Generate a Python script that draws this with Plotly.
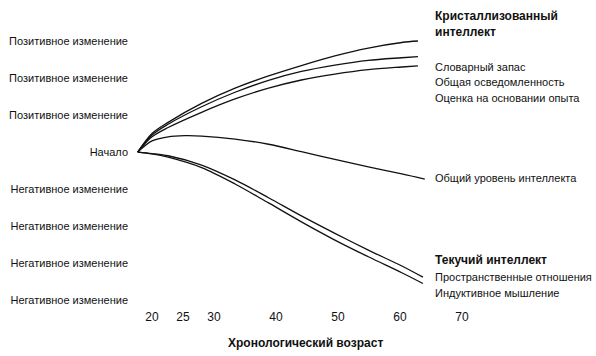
import plotly.graph_objects as go

# ---- data ----
y_tick_vals = [3, 2, 1, 0, -1, -2, -3, -4]
y_tick_labels = ["Позитивное изменение"] * 3 + ["Начало"] + ["Негативное изменение"] * 4
x_tick_vals = [20, 25, 30, 40, 50, 60, 70]
x_tick_labels = ["20", "25", "30", "40", "50", "60", "70"]
x_title = "Хронологический возраст"

ages_cryst = [17.7, 20.0, 22.6, 28.0, 33.4, 38.8, 44.1, 49.5, 54.9, 60.3, 62.9]
vocabulary = [0.0, 0.50, 0.80, 1.31, 1.72, 2.05, 2.33, 2.59, 2.80, 2.95, 2.99]
general_info = [0.0, 0.46, 0.75, 1.22, 1.61, 1.93, 2.17, 2.34, 2.47, 2.54, 2.57]
experience = [0.0, 0.41, 0.66, 1.07, 1.43, 1.72, 1.94, 2.10, 2.22, 2.29, 2.32]

ages_general = [17.7, 20.0, 22.6, 25.3, 28.0, 33.4, 38.8, 44.1, 49.5, 54.9, 60.3, 64.0]
general_level = [0.0, 0.30, 0.41, 0.44, 0.43, 0.35, 0.21, 0.01, -0.20, -0.40, -0.59, -0.73]

ages_fluid = [17.7, 20.0, 22.6, 28.0, 33.4, 38.8, 44.1, 49.5, 54.9, 60.3, 63.7]
spatial = [0.0, -0.04, -0.10, -0.35, -0.75, -1.23, -1.72, -2.19, -2.64, -3.07, -3.37]
inductive = [0.0, -0.05, -0.14, -0.42, -0.86, -1.37, -1.88, -2.37, -2.82, -3.25, -3.54]

right_labels = [
    ("<b>Кристаллизованный<br>интеллект</b>", 3.45, 12),
    ("Словарный запас", 2.29, 11),
    ("Общая осведомленность", 1.89, 11),
    ("Оценка на основании опыта", 1.46, 11),
    ("Общий уровень интеллекта", -0.70, 11),
    ("<b>Текучий интеллект</b>", -2.91, 12),
    ("Пространственные отношения", -3.37, 11),
    ("Индуктивное мышление", -3.80, 11),
]

FONT = "Liberation Sans, Arial, sans-serif"
FS = 11
LINE = dict(color="#111111", width=1.3, shape="spline", smoothing=0.9)

fig = go.Figure()
series = [
    ("Словарный запас", ages_cryst, vocabulary),
    ("Общая осведомленность", ages_cryst, general_info),
    ("Оценка на основании опыта", ages_cryst, experience),
    ("Общий уровень интеллекта", ages_general, general_level),
    ("Пространственные отношения", ages_fluid, spatial),
    ("Индуктивное мышление", ages_fluid, inductive),
]
for name, xs, ys in series:
    fig.add_trace(go.Scatter(x=xs, y=ys, mode="lines", name=name, line=LINE,
                             hoverinfo="skip", showlegend=False))

label_x = 65.3
for text, yv, fs in right_labels:
    fig.add_annotation(x=label_x, y=yv, xref="x", yref="y", text=text,
                       showarrow=False, xanchor="left", yanchor="middle",
                       align="left", font=dict(family=FONT, size=fs, color="#111"))

fig.add_annotation(x=44.7, y=-0.1155, xref="x", yref="paper", text="<b>" + x_title + "</b>",
                   showarrow=False, xanchor="center", yanchor="middle",
                   font=dict(family=FONT, size=12, color="#111"))

fig.update_layout(
    width=596, height=356,
    margin=dict(l=135, r=6, t=5, b=48),
    paper_bgcolor="white", plot_bgcolor="white",
    font=dict(family=FONT, size=FS, color="#111"),
    xaxis=dict(range=[17.26, 90.65], tickvals=x_tick_vals, ticktext=x_tick_labels,
               showgrid=False, zeroline=False, showline=False, ticks="",
               automargin=False, tickfont=dict(size=12)),
    yaxis=dict(range=[-4.2, 3.96], tickvals=y_tick_vals, ticktext=y_tick_labels,
               showgrid=False, zeroline=False, showline=False, ticks="",
               ticklabelstandoff=6, automargin=False),
)

fig.write_html("out.html", config={"displayModeBar": False},
               post_script="document.body.style.margin='0';")
